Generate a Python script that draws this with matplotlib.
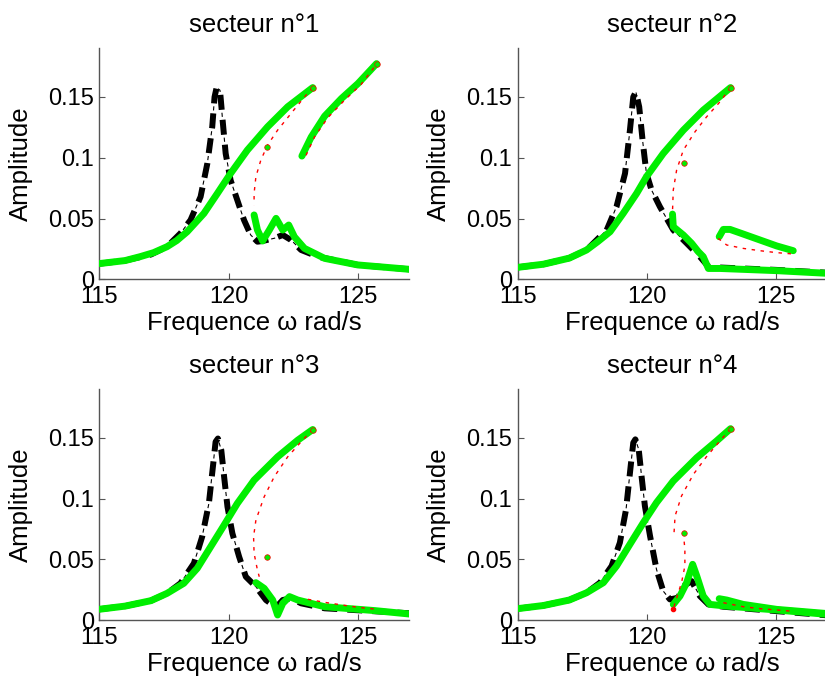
import numpy as np
import matplotlib
matplotlib.use("Agg")
import matplotlib.pyplot as plt

plt.rcParams['font.family'] = ['Liberation Sans', 'DejaVu Sans']
plt.rcParams['lines.scale_dashes'] = False

# secteur 1
s1_lin_x = [115.03, 116.0, 117.0, 117.62, 118.14, 118.53, 118.92, 119.18, 119.37, 119.46, 119.54, 119.67, 119.76, 119.89, 120.08, 120.34, 120.6, 120.86, 121.12, 121.32, 121.77, 122.1, 122.42, 122.81, 123.46, 125.0, 127.0]
s1_lin_y = [0.013, 0.0155, 0.0205, 0.0269, 0.0379, 0.0488, 0.068, 0.0953, 0.1254, 0.150, 0.1577, 0.1555, 0.1336, 0.1035, 0.0816, 0.0652, 0.0488, 0.0365, 0.031, 0.0316, 0.0338, 0.0365, 0.0324, 0.0242, 0.0187, 0.0119, 0.0083]
s1_up_x = [115.0, 116.0, 116.58, 117.1, 117.62, 118.0, 118.4, 119.05, 119.57, 120.08, 120.73, 121.51, 122.29, 123.26]
s1_up_y = [0.013, 0.0155, 0.0187, 0.022, 0.0269, 0.032, 0.0392, 0.0543, 0.0707, 0.0871, 0.1063, 0.1254, 0.1419, 0.1577]
s1_lo_x = [120.99, 121.12, 121.32, 121.58, 121.84, 122.1, 122.33, 122.55, 122.94, 123.72, 125.0, 127.0]
s1_lo_y = [0.053, 0.0406, 0.0316, 0.0406, 0.0502, 0.0406, 0.0447, 0.035, 0.0255, 0.0173, 0.0119, 0.0083]
s1_iso_x = [122.84, 123.2, 123.72, 124.37, 125.01, 125.73]
s1_iso_y = [0.1014, 0.117, 0.1342, 0.1487, 0.161, 0.1774]
s1_un_x = [123.26, 122.94, 122.42, 121.9, 121.51, 121.25, 121.06, 120.99, 120.99]
s1_un_y = [0.1577, 0.150, 0.1364, 0.1227, 0.1104, 0.098, 0.0844, 0.0707, 0.0611]
s1_un2_x = [123.0, 123.33, 123.85, 124.49, 125.14, 125.73]
s1_un2_y = [0.102, 0.1172, 0.1331, 0.1473, 0.1605, 0.177]
s1_dot_x = [123.26, 121.49, 125.73]
s1_dot_y = [0.1577, 0.109, 0.1774]

# secteur 2
s2_lin_x = [115.0, 116.0, 117.0, 117.67, 118.45, 118.83, 119.16, 119.35, 119.48, 119.58, 119.71, 119.84, 119.99, 120.19, 120.51, 121.03, 121.55, 122.06, 122.39, 122.71, 125.04, 127.0]
s2_lin_y = [0.0099, 0.0125, 0.0175, 0.0242, 0.0406, 0.0598, 0.0871, 0.1227, 0.150, 0.1542, 0.1418, 0.1145, 0.0871, 0.0734, 0.0598, 0.0406, 0.0297, 0.0187, 0.0105, 0.0099, 0.0078, 0.0055]
s2_up_x = [115.0, 116.0, 117.0, 117.67, 118.1, 118.58, 119.09, 119.61, 119.99, 120.64, 121.42, 122.19, 123.25]
s2_up_y = [0.0099, 0.0125, 0.0175, 0.0242, 0.031, 0.0392, 0.0543, 0.0707, 0.0844, 0.1035, 0.1227, 0.1391, 0.1577]
s2_lo_x = [121.0, 121.03, 121.42, 121.74, 122.0, 122.19, 122.39, 122.84, 125.04, 127.0]
s2_lo_y = [0.0537, 0.0433, 0.0365, 0.0297, 0.0228, 0.0187, 0.009, 0.009, 0.0072, 0.005]
s2_iso_x = [122.81, 122.97, 123.23, 123.74, 124.39, 125.04, 125.68]
s2_iso_y = [0.0351, 0.0411, 0.0411, 0.0373, 0.0324, 0.0275, 0.0236]
s2_un_x = [123.25, 122.84, 122.32, 121.87, 121.42, 121.16, 121.03, 121.0]
s2_un_y = [0.1577, 0.146, 0.1336, 0.1213, 0.1063, 0.0899, 0.0734, 0.0557]
s2_un2_x = [122.77, 123.1, 123.74, 124.39, 125.04, 125.68]
s2_un2_y = [0.0337, 0.0283, 0.0255, 0.0236, 0.022, 0.0209]
s2_dot_x = [123.25, 121.44]
s2_dot_y = [0.1577, 0.0953]

# secteur 3
s3_lin_x = [115.0, 116.0, 117.0, 117.62, 118.14, 118.66, 118.98, 119.24, 119.41, 119.5, 119.59, 119.72, 119.83, 119.96, 120.15, 120.41, 120.67, 121.06, 121.45, 121.84, 122.1, 122.42, 122.81, 123.72, 127.0]
s3_lin_y = [0.0089, 0.0115, 0.016, 0.022, 0.0303, 0.0467, 0.0686, 0.096, 0.129, 0.1468, 0.1495, 0.1399, 0.118, 0.0933, 0.0714, 0.0522, 0.0357, 0.0275, 0.0165, 0.0105, 0.0165, 0.0179, 0.0138, 0.0097, 0.0056]
s3_up_x = [115.0, 116.0, 117.0, 117.62, 118.27, 118.79, 119.31, 119.83, 120.34, 120.99, 121.9, 122.68, 123.26]
s3_up_y = [0.0089, 0.0115, 0.016, 0.022, 0.0303, 0.0426, 0.0604, 0.0782, 0.096, 0.1152, 0.1344, 0.1481, 0.1569]
s3_lo_x = [121.06, 121.38, 121.71, 121.9, 122.1, 122.36, 122.68, 123.72, 125.66, 127.0]
s3_lo_y = [0.0308, 0.0261, 0.0165, 0.0042, 0.0138, 0.0193, 0.0165, 0.011, 0.0078, 0.005]
s3_un_x = [123.26, 122.81, 122.29, 121.77, 121.38, 121.06, 120.97, 120.99, 121.12, 121.19]
s3_un_y = [0.1569, 0.1468, 0.1344, 0.118, 0.1015, 0.0823, 0.0686, 0.0549, 0.0412, 0.0357]
s3_un2_x = [123.07, 123.72, 124.37, 125.01, 125.73]
s3_un2_y = [0.0171, 0.0146, 0.0125, 0.0105, 0.0089]
s3_dot_x = [123.26, 121.49]
s3_dot_y = [0.1569, 0.0516]

# secteur 4
s4_lin_x = [115.0, 116.0, 117.0, 117.67, 118.19, 118.64, 118.96, 119.2, 119.38, 119.48, 119.56, 119.69, 119.8, 119.93, 120.13, 120.38, 120.64, 120.9, 121.22, 121.42, 121.74, 122.06, 122.39, 122.97, 127.0]
s4_lin_y = [0.0094, 0.012, 0.0165, 0.0225, 0.0308, 0.0445, 0.0637, 0.0912, 0.1269, 0.146, 0.1488, 0.1406, 0.1186, 0.0939, 0.0692, 0.0417, 0.0239, 0.017, 0.0184, 0.028, 0.0321, 0.0198, 0.0129, 0.011, 0.0039]
s4_up_x = [115.0, 116.0, 117.0, 117.67, 118.32, 118.83, 119.35, 119.87, 120.38, 121.03, 121.94, 122.71, 123.25]
s4_up_y = [0.0094, 0.012, 0.0165, 0.0225, 0.0308, 0.0445, 0.0624, 0.0802, 0.0967, 0.1145, 0.1337, 0.1475, 0.1576]
s4_lo_x = [121.03, 121.29, 121.55, 121.78, 121.94, 122.19, 122.45, 123.1, 125.04, 127.0]
s4_lo_y = [0.0129, 0.0198, 0.0308, 0.0459, 0.0363, 0.0198, 0.0129, 0.0115, 0.0083, 0.0047]
s4_iso_x = [122.81, 123.1, 123.74, 125.04, 126.91]
s4_iso_y = [0.0176, 0.0165, 0.0129, 0.0088, 0.0055]
s4_un_x = [123.25, 122.84, 122.32, 121.81, 121.35, 121.1, 121.06]
s4_un_y = [0.1576, 0.1475, 0.1346, 0.120, 0.1022, 0.0857, 0.072]
s4_un2_x = [121.42, 121.48, 121.48, 121.35, 121.1, 121.03]
s4_un2_y = [0.072, 0.0582, 0.0445, 0.0308, 0.0143, 0.0088]
s4_un3_x = [122.97, 123.74, 124.39, 125.04, 125.68]
s4_un3_y = [0.0143, 0.011, 0.0094, 0.0083, 0.0072]
s4_dot_x = [123.25, 121.44]
s4_dot_y = [0.1576, 0.072]
s4_rdot_x = [121.03]
s4_rdot_y = [0.0088]

titles = ['secteur n°1', 'secteur n°2', 'secteur n°3', 'secteur n°4']

panels = [
    (s1_lin_x, s1_lin_y, [(s1_up_x, s1_up_y), (s1_lo_x, s1_lo_y), (s1_iso_x, s1_iso_y)],
     [(s1_un_x, s1_un_y), (s1_un2_x, s1_un2_y)], (s1_dot_x, s1_dot_y), None),
    (s2_lin_x, s2_lin_y, [(s2_up_x, s2_up_y), (s2_lo_x, s2_lo_y), (s2_iso_x, s2_iso_y)],
     [(s2_un_x, s2_un_y), (s2_un2_x, s2_un2_y)], (s2_dot_x, s2_dot_y), None),
    (s3_lin_x, s3_lin_y, [(s3_up_x, s3_up_y), (s3_lo_x, s3_lo_y)],
     [(s3_un_x, s3_un_y), (s3_un2_x, s3_un2_y)], (s3_dot_x, s3_dot_y), None),
    (s4_lin_x, s4_lin_y, [(s4_up_x, s4_up_y), (s4_lo_x, s4_lo_y), (s4_iso_x, s4_iso_y)],
     [(s4_un_x, s4_un_y), (s4_un2_x, s4_un2_y), (s4_un3_x, s4_un3_y)], (s4_dot_x, s4_dot_y),
     (s4_rdot_x, s4_rdot_y)),
]

pos = [[0.1204, 0.5927, 0.3758, 0.3369],
       [0.6275, 0.5927, 0.3753, 0.3369],
       [0.1204, 0.0961, 0.3758, 0.3364],
       [0.6275, 0.0961, 0.3753, 0.3364]]

green = '#00ee00'
axcol = '#555555'

fig = plt.figure(figsize=(8.25, 6.86), dpi=100)
for k in range(4):
    lx, ly, stab, unst, dots, rdots = panels[k]
    ax = fig.add_axes(pos[k])
    # lineaire : tirets epais + petits traits fins
    ax.plot(lx, ly, color='black', lw=0.8, linestyle=(5.1, (3, 15)), zorder=2)
    ax.plot(lx, ly, color='black', lw=4.3, linestyle=(0, (10.8, 7.2)), zorder=2)
    for bx, by in stab:
        ax.plot(bx, by, color=green, lw=5, solid_capstyle='round', solid_joinstyle='round', zorder=3)
    for ux, uy in unst:
        ax.plot(ux, uy, color='red', lw=1, linestyle=(0, (2.5, 4)), zorder=4)
    ax.plot(dots[0], dots[1], 'o', color=green, ms=4, mec='red', mew=0.5, zorder=5)
    if rdots is not None:
        ax.plot(rdots[0], rdots[1], 'o', color='red', ms=3, zorder=5)
    ax.set_xlim(115, 127)
    ax.set_ylim(0, 0.19)
    ax.set_xticks([115, 120, 125])
    ax.set_yticks([0, 0.05, 0.1, 0.15])
    ax.set_yticklabels(['0', '0.05', '0.1', '0.15'])
    for s in ['top', 'right']:
        ax.spines[s].set_visible(False)
    for s in ['left', 'bottom']:
        ax.spines[s].set_color(axcol)
        ax.spines[s].set_linewidth(1.0)
    ax.tick_params(axis='y', direction='in', length=4, width=0.8, color=axcol, labelsize=17, pad=4)
    ax.tick_params(axis='x', direction='in', length=4, width=0.8, color=axcol, labelsize=17, pad=5)
    ax.set_title(titles[k], fontsize=18.5, pad=12)
    ax.set_xlabel('Frequence ω rad/s', fontsize=18.5, labelpad=2)
    ax.set_ylabel('Amplitude', fontsize=18.5)
    ax.yaxis.set_label_coords(-0.214, 0.5)

fig.savefig('out.png', dpi=100)
